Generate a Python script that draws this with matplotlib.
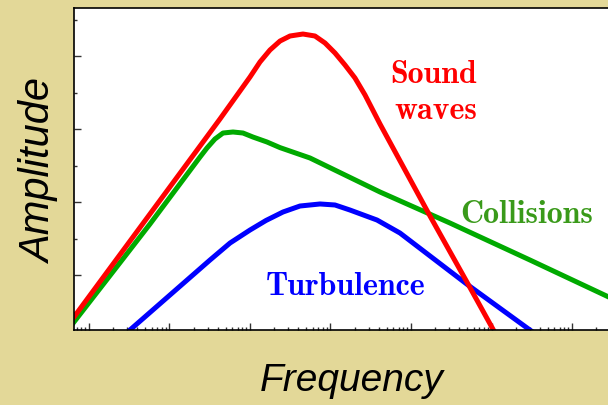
import matplotlib
matplotlib.use("Agg")
import matplotlib.pyplot as plt
import numpy as np
from matplotlib.ticker import LogLocator, MultipleLocator, NullFormatter

# spectra: log10(frequency) and amplitude
sound_logf = [-0.36, -0.186, 0.758, 1.627, 2.000, 2.124, 2.248, 2.373, 2.497, 2.658,
              2.807, 2.932, 3.056, 3.180, 3.304, 3.429, 3.615, 4.236, 4.708, 5.106]
sound_amp = [0.164, 0.425, 1.836, 3.137, 3.712, 3.918, 4.082, 4.205, 4.274, 4.301,
             4.274, 4.178, 4.041, 3.877, 3.699, 3.466, 3.068, 1.808, 0.877, 0.082]

coll_logf = [-0.36, -0.186, 0.758, 1.379, 1.466, 1.565, 1.665, 1.789, 1.913, 2.037,
             2.211, 2.373, 2.745, 3.615, 4.484, 5.478, 6.534]
coll_amp = [0.110, 0.356, 1.699, 2.616, 2.740, 2.863, 2.945, 2.959, 2.945, 2.890,
            2.822, 2.745, 2.603, 2.137, 1.712, 1.205, 0.658]

turb_logf = [0.447, 0.509, 1.006, 1.503, 1.752, 2.000, 2.199, 2.410, 2.621, 2.870,
             3.056, 3.242, 3.578, 3.863, 4.708, 5.665]
turb_amp = [0.178, 0.247, 0.726, 1.205, 1.438, 1.616, 1.747, 1.863, 1.945, 1.973,
            1.959, 1.890, 1.753, 1.575, 0.863, 0.096]

bg = "#E3D898"
fig = plt.figure(figsize=(6.08, 4.05), dpi=100, facecolor=bg)
ax = fig.add_axes([74 / 608, 75 / 405, 534 / 608, 322 / 405])
ax.set_facecolor("white")

lw = 3.6
ax.plot(10 ** np.array(coll_logf), coll_amp, color="#00AA00", lw=lw, solid_joinstyle="round")
ax.plot(10 ** np.array(turb_logf), turb_amp, color="#0000FF", lw=lw, solid_joinstyle="round")
ax.plot(10 ** np.array(sound_logf), sound_amp, color="#FF0000", lw=lw, solid_joinstyle="round")

ax.set_xscale("log")
ax.set_xlim(10 ** -0.186, 10 ** 6.447)
ax.set_ylim(1 - 55 / 73, 1 + 267 / 73)

ax.xaxis.set_major_locator(LogLocator(base=10, numticks=20))
ax.xaxis.set_minor_locator(LogLocator(base=10, subs=np.arange(2, 10), numticks=20))
ax.xaxis.set_major_formatter(NullFormatter())
ax.xaxis.set_minor_formatter(NullFormatter())
ax.yaxis.set_major_locator(MultipleLocator(1))
ax.yaxis.set_minor_locator(MultipleLocator(0.5))
ax.yaxis.set_major_formatter(NullFormatter())
ax.tick_params(which="both", direction="in", color="#333333", width=1.0)
ax.tick_params(which="major", length=5)
ax.tick_params(which="minor", length=2.5)
ax.tick_params(top=False, right=False, which="both")

for side in ["left", "bottom", "top"]:
    ax.spines[side].set_linewidth(1.2)
ax.spines["right"].set_visible(False)

fig.text(40 / 608, 1 - 172 / 405, "Amplitude", rotation=90, ha="center", va="center",
         fontsize=30, style="italic", family="Liberation Sans")
fig.text(352 / 608, 1 - 381 / 405, "Frequency", ha="center", va="center",
         fontsize=28, style="italic", family="Liberation Sans")

lab = dict(family="cmb10", fontsize=23, ha="center", va="baseline")
ax.text((434 - 74) / 534, 1 - 75 / 322, "Sound", color="#FF0000", transform=ax.transAxes, **lab)
ax.text((436 - 74) / 534, 1 - 111 / 322, "waves", color="#FF0000", transform=ax.transAxes, **lab)
ax.text((527 - 74) / 534, 1 - 215 / 322, "Collisions", color="#3A9A1A", transform=ax.transAxes, **lab)
ax.text((346 - 74) / 534, 1 - 287 / 322, "Turbulence", color="#0000FF", transform=ax.transAxes, **lab)

fig.savefig("out.png", dpi=100, facecolor=bg)
